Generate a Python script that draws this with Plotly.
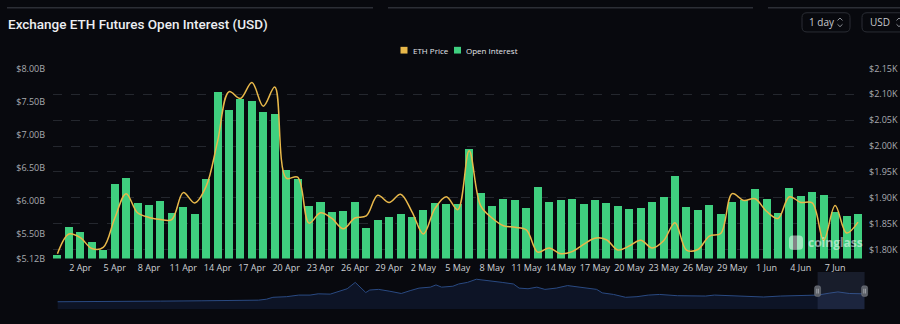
import plotly.graph_objects as go
import pandas as pd

# ---------------- data ----------------
dates = pd.date_range("2023-03-31", "2023-06-09", freq="D")

open_interest_b = [  # Open Interest, billions USD
    5.17, 5.585, 5.52, 5.36, 5.235, 6.235, 6.33, 5.95, 5.93, 5.98,
    5.81, 5.89, 5.795, 6.315, 7.63, 7.37, 7.535, 7.495, 7.33, 7.305,
    6.45, 6.32, 5.915, 5.97, 5.815, 5.835, 5.975, 5.58, 5.69, 5.745,
    5.795, 5.745, 5.845, 5.96, 5.94, 5.94, 6.78, 6.11, 5.915, 6.015,
    5.995, 5.875, 6.19, 5.97, 5.995, 6.01, 5.945, 6.0, 5.955, 5.91,
    5.865, 5.88, 5.965, 6.05, 6.365, 5.895, 5.85, 5.92, 5.79, 5.975,
    6.005, 6.16, 6.02, 5.8, 6.18, 6.065, 6.12, 6.08, 5.825, 5.755,
    5.785,
]

eth_price_k = [  # ETH price, thousands USD
    1.792, 1.830, 1.823, 1.802, 1.804, 1.860, 1.908, 1.871, 1.862, 1.858,
    1.858, 1.910, 1.890, 1.922, 2.009, 2.105, 2.092, 2.123, 2.077, 2.114,
    1.938, 1.940, 1.851, 1.871, 1.860, 1.840, 1.861, 1.865, 1.905, 1.891,
    1.907, 1.873, 1.830, 1.879, 1.902, 1.877, 1.991, 1.885, 1.861, 1.846,
    1.843, 1.838, 1.795, 1.803, 1.792, 1.796, 1.810, 1.822, 1.819, 1.799,
    1.807, 1.818, 1.803, 1.817, 1.852, 1.799, 1.800, 1.826, 1.831, 1.908,
    1.895, 1.898, 1.874, 1.860, 1.902, 1.891, 1.890, 1.818, 1.885, 1.832,
    1.853,
]

x_tick_labels = ["2 Apr", "5 Apr", "8 Apr", "11 Apr", "14 Apr", "17 Apr", "20 Apr",
                 "23 Apr", "26 Apr", "29 Apr", "2 May", "5 May", "8 May", "11 May",
                 "14 May", "17 May", "20 May", "23 May", "26 May", "29 May",
                 "1 Jun", "4 Jun", "7 Jun"]
x_tick_dates = pd.to_datetime([f"{lbl} 2023" for lbl in x_tick_labels], format="%d %b %Y")

left_tick_vals = [5.12, 5.5, 6.0, 6.5, 7.0, 7.5, 8.0]
left_tick_text = ["$5.12B", "$5.50B", "$6.00B", "$6.50B", "$7.00B", "$7.50B", "$8.00B"]
right_tick_vals = [1.80, 1.85, 1.90, 1.95, 2.00, 2.05, 2.10, 2.15]
right_tick_text = ["$1.80K", "$1.85K", "$1.90K", "$1.95K", "$2.00K", "$2.05K", "$2.10K", "$2.15K"]

# navigator (full-history overview), relative position 0-100 and relative height
nav_pos = [0, 7.1, 12.8, 17.8, 21.3, 24.9, 25.9, 26.7, 28.4, 29.9, 31.3, 32.3, 33.8,
           34.8, 35.9, 36.9, 37.7, 38.2, 38.7, 39.8, 41.2, 42.6, 43.7, 44.8, 46.2,
           46.9, 47.6, 49.0, 49.7, 50.8, 51.9, 52.9, 54.0, 55.1, 56.5, 57.2, 58.3,
           59.4, 60.4, 61.8, 63.2, 63.9, 65.4, 66.8, 67.5, 68.9, 70.4, 71.8, 73.2,
           74.6, 76.8, 78.9, 80.3, 81.4, 85.3, 87.5, 89.6, 92.4, 94.2, 95.6, 96.7,
           98.1, 100]
nav_vals = [24, 24, 26, 27, 28, 29, 32, 38, 40, 45, 45, 49, 48, 55, 65, 85, 67, 53,
            61, 63, 57, 50, 59, 67, 70, 77, 70, 73, 80, 85, 95, 92, 90, 85, 80, 67,
            65, 70, 63, 67, 75, 73, 67, 63, 52, 47, 38, 40, 45, 47, 43, 42, 42, 45,
            40, 39, 42, 43, 45, 51, 55, 50, 49]

# ---------------- styling ----------------
W, H = 900, 324
BG = "#08090e"
GREEN = "#3fcf7f"
GOLD = "#e8b84a"
FONT = "Open Sans"


def px(x):
    return x / W


def py(y):
    return 1 - y / H


one_day = pd.Timedelta(days=1)
x_range = [dates[0] - 0.39 * one_day, dates[-1] + 0.35 * one_day]

fig = go.Figure()

fig.add_trace(go.Bar(
    x=dates, y=open_interest_b, name="Open Interest",
    marker=dict(color=GREEN, line=dict(width=0)),
    width=0.7 * 86400000, xaxis="x", yaxis="y", showlegend=False,
))
fig.add_trace(go.Scatter(
    x=dates, y=eth_price_k, name="ETH Price", mode="lines",
    line=dict(color=GOLD, width=1.5, shape="spline", smoothing=1.0),
    xaxis="x", yaxis="y2", showlegend=False,
))
fig.add_trace(go.Scatter(
    x=nav_pos, y=nav_vals, mode="lines", fill="tozeroy",
    line=dict(color="#2a4a82", width=1), fillcolor="#0d1426",
    xaxis="x3", yaxis="y3", showlegend=False, hoverinfo="skip",
))

y_dom = [py(262), py(64)]

fig.update_layout(
    width=W, height=H,
    margin=dict(l=0, r=0, t=0, b=0),
    paper_bgcolor=BG, plot_bgcolor=BG,
    font=dict(family=FONT, color="#c8cacf"),
    bargap=0,
    xaxis=dict(
        domain=[px(53), px(862)], range=x_range, type="date",
        tickvals=x_tick_dates, ticktext=x_tick_labels,
        showgrid=False, zeroline=False, showline=False, ticks="",
        tickfont=dict(size=9, color="#cfd1d5"), ticklabelstandoff=3,
        anchor="y",
    ),
    yaxis=dict(
        domain=y_dom, range=[5.12, 8.0],
        tickvals=left_tick_vals, ticktext=left_tick_text,
        showgrid=False, zeroline=False, showline=False, ticks="",
        tickfont=dict(size=9, color="#a9abb0"), ticklabelstandoff=7,
        anchor="x",
    ),
    yaxis2=dict(
        domain=y_dom, range=[1.7827, 2.15], overlaying="y", side="right",
        tickvals=right_tick_vals, ticktext=right_tick_text,
        showgrid=True, gridcolor="#24272e", griddash="dash", gridwidth=1,
        zeroline=False, showline=False, ticks="",
        tickfont=dict(size=9, color="#a9abb0"), ticklabelstandoff=6,
        anchor="x",
    ),
    xaxis3=dict(
        domain=[px(57.4), px(864.6)], range=[0, 100], anchor="y3",
        visible=False, fixedrange=True,
    ),
    yaxis3=dict(
        domain=[py(315), py(276)], range=[0, 118], anchor="x3",
        visible=False, fixedrange=True,
    ),
)

shapes = []
annotations = []

# top card edges
for x0, x1 in [(7, 373), (388, 753), (768, 900)]:
    shapes.append(dict(type="rect", xref="paper", yref="paper",
                       x0=px(x0), x1=px(x1), y0=py(1.5), y1=py(0),
                       fillcolor="#2c2f36", line=dict(width=0), layer="above"))


def rounded_rect(x0, y0, x1, y1, r):
    return (f"M {px(x0 + r)},{py(y0)} L {px(x1 - r)},{py(y0)} "
            f"Q {px(x1)},{py(y0)} {px(x1)},{py(y0 + r)} "
            f"L {px(x1)},{py(y1 - r)} Q {px(x1)},{py(y1)} {px(x1 - r)},{py(y1)} "
            f"L {px(x0 + r)},{py(y1)} Q {px(x0)},{py(y1)} {px(x0)},{py(y1 - r)} "
            f"L {px(x0)},{py(y0 + r)} Q {px(x0)},{py(y0)} {px(x0 + r)},{py(y0)} Z")


# dropdown boxes
for (x0, x1, label, lx, cx) in [(802, 850, "1 day", 807, 840), (862, 910, "USD", 868, 899)]:
    shapes.append(dict(type="path", xref="paper", yref="paper",
                       path=rounded_rect(x0, 6, x1, 26, 5),
                       line=dict(color="#2a2d34", width=1), fillcolor=BG))
    annotations.append(dict(text=label, xref="paper", yref="paper",
                            x=px(lx), y=py(16), xanchor="left", yanchor="middle",
                            showarrow=False, font=dict(size=10, color="#c6c8cd", family=FONT)))
    shapes.append(dict(type="path", xref="paper", yref="paper",
                       path=f"M {px(cx - 2.5)},{py(14)} L {px(cx)},{py(11.5)} L {px(cx + 2.5)},{py(14)}",
                       line=dict(color="#8c8f96", width=1)))
    shapes.append(dict(type="path", xref="paper", yref="paper",
                       path=f"M {px(cx - 2.5)},{py(18)} L {px(cx)},{py(20.5)} L {px(cx + 2.5)},{py(18)}",
                       line=dict(color="#8c8f96", width=1)))

# title
annotations.append(dict(text="Exchange ETH Futures Open Interest (USD)", xref="paper", yref="paper",
                        x=px(6), y=py(17.5), xanchor="left", yanchor="middle", showarrow=False,
                        font=dict(size=13.5, color="#eceef2", family="Roboto", weight=500)))

# legend (custom)
for sx, color, label in [(400.5, GOLD, "ETH Price"), (454, GREEN, "Open Interest")]:
    shapes.append(dict(type="rect", xref="paper", yref="paper",
                       x0=px(sx), x1=px(sx + 7), y0=py(48.5), y1=py(41.5),
                       fillcolor=color, line=dict(width=0)))
    annotations.append(dict(text=label, xref="paper", yref="paper",
                            x=px(sx + 10), y=py(45), xanchor="left", yanchor="middle",
                            showarrow=False, font=dict(size=8, color="#e4e6ea", family=FONT)))

# watermark
annotations.append(dict(text="coinglass", xref="paper", yref="paper",
                        x=px(806), y=py(245), xanchor="left", yanchor="middle", showarrow=False,
                        font=dict(size=12, color="rgba(255,255,255,0.55)", family=FONT, weight=700)))
shapes.append(dict(type="path", xref="paper", yref="paper",
                   path=rounded_rect(789, 238, 803, 253, 4),
                   fillcolor="rgba(255,255,255,0.5)", line=dict(width=0), layer="above"))

# navigator selection window and handles
shapes.append(dict(type="rect", xref="paper", yref="paper",
                   x0=px(817.6), x1=px(864.6), y0=py(315), y1=py(276),
                   fillcolor="rgba(80,100,150,0.22)", line=dict(width=0), layer="above"))
for hx in (817.6, 864.6):
    shapes.append(dict(type="path", xref="paper", yref="paper",
                       path=rounded_rect(hx - 3, 290.5, hx + 3, 301.5, 2),
                       fillcolor="#5c6068", line=dict(color="#7a7e86", width=0.5), layer="above"))
    for dx in (-0.8, 0.8):
        shapes.append(dict(type="line", xref="paper", yref="paper",
                           x0=px(hx + dx), x1=px(hx + dx), y0=py(293.5), y1=py(298.5),
                           line=dict(color="#c9ccd2", width=0.6), layer="above"))

fig.update_layout(shapes=shapes, annotations=annotations)

fig.write_html("out.html")
